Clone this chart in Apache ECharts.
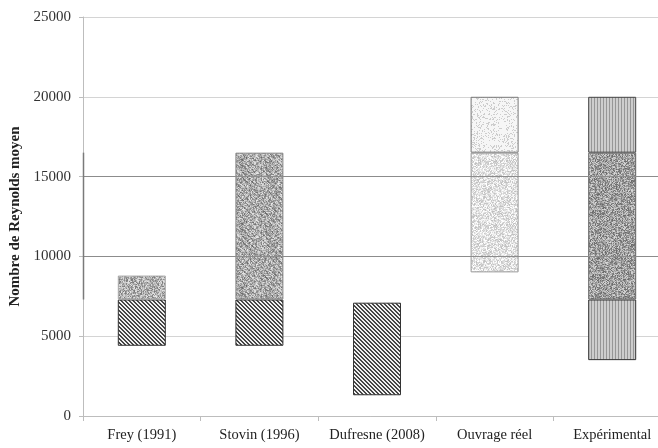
<!DOCTYPE html>
<html><head><meta charset="utf-8">
<script src="https://cdn.jsdelivr.net/npm/echarts@6/dist/echarts.min.js"></script>
<style>html,body{margin:0;padding:0;background:#fff}#c{width:658px;height:448px}</style>
</head><body><div id="c"></div>
<script>
// Data
const categories = ['Frey (1991)', 'Stovin (1996)', 'Dufresne (2008)', 'Ouvrage réel', 'Expérimental'];
const bottoms = [4400, 4400, 1300, 9000, 3500];
const level1 = [7300, 7300, 7100, 9000, 7300];
const level2 = [8800, 16500, 7100, 16500, 16500];
const tops = [8800, 16500, 7100, 20000, 20000];
const yTicks = [0, 5000, 10000, 15000, 20000, 25000];
const darkGrid = [10000, 15000];
const axisAccent = [7300, 16500];

function hash(x, y, s) {
  const v = Math.sin(x * 12.9898 + y * 78.233 + s * 37.719) * 43758.5453;
  return v - Math.floor(v);
}
function makeCanvas(w, h, fn) {
  const c = document.createElement('canvas');
  c.width = w; c.height = h;
  const ctx = c.getContext('2d');
  const img = ctx.createImageData(w, h);
  for (let y = 0; y < h; y++) for (let x = 0; x < w; x++) {
    const g = Math.max(0, Math.min(255, Math.round(fn(x, y))));
    const i = (y * w + x) * 4;
    img.data[i] = g; img.data[i + 1] = g; img.data[i + 2] = g; img.data[i + 3] = 255;
  }
  ctx.putImageData(img, 0, 0);
  return { image: c, repeat: 'repeat' };
}
const hatch = makeCanvas(8, 8, (x, y) => (((x - y) % 4 + 4) % 4 < 2 ? 70 : 240));
const speckFrey = makeCanvas(64, 64, (x, y) => 175 + (hash(x, y, 1) - 0.5) * 110);
const speckStovin = makeCanvas(64, 64, (x, y) => 172 + (hash(x, y, 2) - 0.5) * 100 + ((((x - y) % 6) + 6) % 6 < 2 ? -18 : 8));
const speckExp = makeCanvas(64, 64, (x, y) => 160 + (hash(x, y, 3) - 0.5) * 115);
const speckOuv = makeCanvas(64, 64, (x, y) => 225 + (hash(x, y, 4) - 0.5) * 70);
const dotsOuv = makeCanvas(64, 64, (x, y) => hash(x, y, 5) < 0.2 ? 205 : 246);
const vstripe = makeCanvas(3, 3, (x, y) => (x % 3 === 0 ? 150 : 205));

const seg1Colors = [hatch, hatch, hatch, hatch, vstripe];
const seg2Colors = [speckFrey, speckStovin, speckFrey, speckOuv, speckExp];
const seg3Colors = [dotsOuv, dotsOuv, dotsOuv, dotsOuv, vstripe];
const seg1Border = ['#333', '#333', '#333', '#333', '#333'];
const seg2Border = ['#aaa', '#888', '#aaa', '#999', '#666'];
const seg3Border = ['#555', '#555', '#555', '#777', '#444'];

function diffs(a, b) { return a.map((v, i) => b[i] - v); }
function items(vals, colors, borders) {
  return vals.map((v, i) => ({
    value: v,
    itemStyle: { color: colors[i], borderColor: borders[i], borderWidth: v > 0 ? 1 : 0 }
  }));
}

const serif = '"Liberation Serif", "DejaVu Serif", serif';
const chart = echarts.init(document.getElementById('c'));
chart.setOption({
  animation: false,
  backgroundColor: '#fff',
  grid: { left: 83, top: 17, bottom: 32, width: 588, containLabel: false, outerBoundsMode: 'none' },
  xAxis: {
    type: 'category', data: categories,
    axisLine: { lineStyle: { color: '#bdbdbd', width: 1 } },
    axisTick: { show: true, length: 5, lineStyle: { color: '#bdbdbd' } },
    axisLabel: { interval: 0, color: '#222', fontFamily: serif, fontSize: 14.5, margin: 12 }
  },
  yAxis: {
    type: 'value', min: yTicks[0], max: yTicks[yTicks.length - 1], interval: 5000,
    name: 'Nombre de Reynolds moyen', nameLocation: 'middle', nameGap: 55,
    nameTextStyle: { fontFamily: serif, fontWeight: 'bold', fontSize: 15, color: '#222' },
    axisLine: { show: true, lineStyle: { color: '#bdbdbd' } },
    axisTick: { show: true, length: 4, lineStyle: { color: '#bdbdbd' } },
    axisLabel: { color: '#333', fontFamily: serif, fontSize: 15, margin: 12, formatter: v => String(v) },
    splitLine: { show: true, lineStyle: { color: '#d4d4d4', width: 1 } }
  },
  series: [
    {
      type: 'bar', stack: 'r', barWidth: 48, data: bottoms,
      itemStyle: { color: 'rgba(0,0,0,0)' }, silent: true,
      markLine: {
        silent: true, symbol: 'none', label: { show: false },
        lineStyle: { color: '#8c8c8c', type: 'solid', width: 1.2 },
        data: darkGrid.map(v => ({ yAxis: v }))
      }
    },
    { type: 'bar', stack: 'r', barWidth: 48, data: items(diffs(bottoms, level1), seg1Colors, seg1Border) },
    { type: 'bar', stack: 'r', barWidth: 48, data: items(diffs(level1, level2), seg2Colors, seg2Border) },
    { type: 'bar', stack: 'r', barWidth: 48, data: items(diffs(level2, tops), seg3Colors, seg3Border) }
  ]
});
// darker segment on the value axis line
const p0 = chart.convertToPixel({ gridIndex: 0 }, [0, axisAccent[0]]);
const p1 = chart.convertToPixel({ gridIndex: 0 }, [0, axisAccent[1]]);
const axisX = chart.getModel().getComponent('grid', 0).coordinateSystem.getRect().x;
chart.setOption({
  graphic: [{
    type: 'line', silent: true, z: 10,
    shape: { x1: axisX + 0.5, y1: p0[1], x2: axisX + 0.5, y2: p1[1] },
    style: { stroke: '#7a7a7a', lineWidth: 1.5 }
  }]
});
</script></body></html>
